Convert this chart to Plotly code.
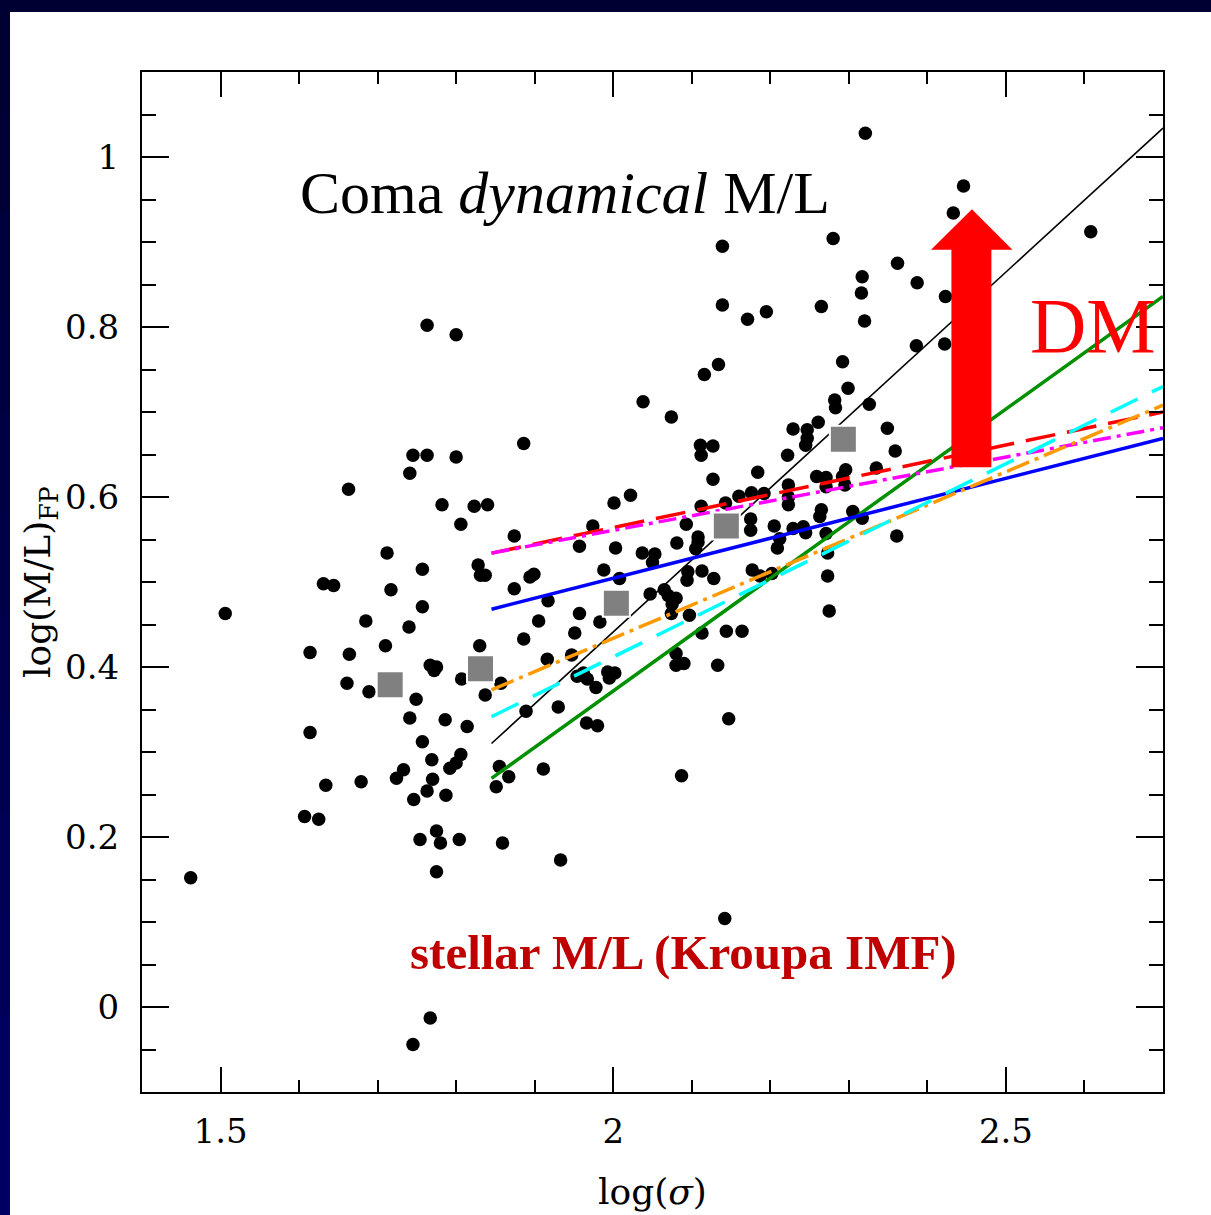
import plotly.graph_objects as go

# Coma cluster galaxies: velocity dispersion vs fundamental-plane M/L
log_sigma = [
    2.321, 2.446, 2.433, 2.608, 2.139, 2.280, 2.362, 2.317, 2.387, 2.316,
    2.139, 2.423, 2.195, 2.171, 2.265, 2.320, 2.386, 2.422, 2.134, 2.116,
    2.292, 2.299, 2.038, 2.074, 2.282, 2.283, 2.326, 2.111, 2.127, 2.112,
    2.229, 2.247, 2.247, 2.245, 2.261, 2.349, 2.359, 2.222, 2.127, 2.184,
    2.001, 2.022, 2.093, 2.112, 2.143, 2.160, 2.176, 2.192, 2.223, 2.223,
    2.223, 2.259, 2.271, 2.296, 2.292, 2.295, 2.271, 2.335, 2.175, 2.175,
    2.205, 2.229, 2.242, 2.245, 2.265, 2.263, 2.305, 2.317, 2.271, 2.273,
    2.361, 2.273, 2.275, 2.081, 2.108, 2.108, 2.105, 2.037, 2.053, 2.050,
    2.003, 1.988, 2.008, 2.095, 2.094, 2.113, 2.128, 2.212, 2.209, 2.177,
    2.202, 2.187, 2.047, 2.065, 2.070, 2.080, 2.075, 2.074, 2.097, 2.113,
    2.144, 2.164, 2.080, 2.080, 2.090, 2.133, 1.993, 2.002, 2.147, 2.087,
    2.142, 1.506, 1.663, 1.614, 1.614, 1.631, 1.644, 1.712, 1.717, 1.685,
    1.661, 1.664, 1.710, 1.689, 1.741, 1.745, 1.763, 1.800, 1.782, 1.823,
    1.840, 1.806, 1.886, 1.874, 1.757, 1.757, 1.740, 1.828, 1.831, 1.837,
    1.874, 1.894, 1.899, 1.917, 1.957, 1.974, 1.957, 1.905, 1.886, 1.951,
    1.830, 1.916, 1.947, 1.983, 1.954, 1.962, 1.967, 1.995, 1.978, 1.930,
    1.889, 1.966, 1.980, 1.767, 1.775, 1.772, 1.807, 1.857, 1.837, 1.749,
    1.741, 1.786, 1.814, 1.757, 1.769, 1.806, 1.800, 1.792, 1.733, 1.724,
    1.770, 1.763, 1.787, 1.746, 1.634, 1.679, 1.855, 1.867, 1.851, 1.911,
    1.607, 1.625, 1.775, 1.754, 1.780, 1.804, 1.859, 1.933, 1.775, 1.462,
    1.767, 1.745, 1.763, 1.800,
]
log_ml_fp = [
    1.028, 0.966, 0.934, 0.912, 0.895, 0.904, 0.875, 0.859, 0.852, 0.840,
    0.826, 0.836, 0.818, 0.809, 0.824, 0.807, 0.778, 0.780, 0.756, 0.744,
    0.759, 0.728, 0.712, 0.694, 0.714, 0.705, 0.709, 0.661, 0.660, 0.649,
    0.680, 0.679, 0.669, 0.661, 0.688, 0.681, 0.654, 0.649, 0.621, 0.629,
    0.593, 0.602, 0.568, 0.589, 0.593, 0.601, 0.605, 0.604, 0.614, 0.600,
    0.591, 0.624, 0.623, 0.632, 0.624, 0.614, 0.612, 0.634, 0.574, 0.561,
    0.566, 0.563, 0.565, 0.558, 0.585, 0.577, 0.583, 0.575, 0.557, 0.534,
    0.554, 0.507, 0.466, 0.546, 0.553, 0.547, 0.539, 0.534, 0.533, 0.523,
    0.540, 0.514, 0.504, 0.512, 0.502, 0.513, 0.504, 0.551, 0.540, 0.514,
    0.510, 0.507, 0.486, 0.491, 0.484, 0.481, 0.474, 0.463, 0.461, 0.440,
    0.442, 0.442, 0.416, 0.402, 0.404, 0.402, 0.394, 0.393, 0.339, 0.272,
    0.104, 0.463, 0.609, 0.417, 0.323, 0.498, 0.496, 0.534, 0.491, 0.454,
    0.381, 0.415, 0.425, 0.371, 0.628, 0.649, 0.649, 0.647, 0.591, 0.589,
    0.591, 0.568, 0.663, 0.554, 0.515, 0.471, 0.447, 0.520, 0.508, 0.508,
    0.492, 0.506, 0.509, 0.478, 0.542, 0.566, 0.463, 0.454, 0.433, 0.440,
    0.425, 0.409, 0.414, 0.453, 0.389, 0.393, 0.386, 0.387, 0.376, 0.353,
    0.348, 0.334, 0.331, 0.402, 0.400, 0.396, 0.386, 0.381, 0.367, 0.362,
    0.340, 0.338, 0.330, 0.312, 0.291, 0.297, 0.287, 0.281, 0.279, 0.269,
    0.268, 0.254, 0.249, 0.244, 0.261, 0.265, 0.283, 0.271, 0.259, 0.280,
    0.224, 0.221, 0.207, 0.197, 0.193, 0.197, 0.193, 0.173, 0.159, 0.152,
    -0.013, -0.044, 0.802, 0.791,
]

# Binned medians
bin_sigma = [1.716, 1.831, 2.004, 2.144, 2.293]
bin_ml = [0.379, 0.398, 0.475, 0.566, 0.668]

# Relations evaluated at the two ends of the fitted sigma range
fit_sigma = [1.845, 2.700]
dyn_fit_ml = [0.310, 1.034]
green_ml = [0.269, 0.836]
blue_ml = [0.468, 0.669]
red_ml = [0.534, 0.700]
magenta_ml = [0.534, 0.6815]
orange_ml = [0.373, 0.708]
cyan_ml = [0.3415, 0.730]

serif = "Liberation Serif"
axis_font = "DejaVu Serif"

fig = go.Figure()

fig.add_trace(go.Scatter(
    x=log_sigma, y=log_ml_fp, mode="markers",
    marker=dict(symbol="circle", size=13.5, color="black", line=dict(width=0)),
    hoverinfo="skip",
))

model_lines = [
    (dyn_fit_ml, "black", 1.6, "solid"),
    (green_ml, "#009000", 3.5, "solid"),
    (blue_ml, "#0000ff", 3.5, "solid"),
    (red_ml, "#ff0000", 3.5, "30px,12px"),
    (magenta_ml, "#ff00ff", 3.5, "18px,6px,4px,6px"),
    (orange_ml, "#ff9900", 3.5, "24px,6px,4px,6px"),
    (cyan_ml, "#00ffff", 3.5, "30px,16px"),
]
for ys, col, w, dash in model_lines:
    fig.add_trace(go.Scatter(
        x=fit_sigma, y=ys, mode="lines",
        line=dict(color=col, width=w, dash=dash),
        hoverinfo="skip",
    ))

fig.add_trace(go.Scatter(
    x=bin_sigma, y=bin_ml, mode="markers",
    marker=dict(symbol="square", size=27, color="#808080",
                line=dict(color="white", width=2)),
    hoverinfo="skip",
))

# Page frame: white sheet on a dark navy backdrop, left edge shaded
shapes = [
    dict(type="rect", xref="paper", yref="paper", layer="below",
         x0=-0.1293, x1=1.2, y0=-0.3, y1=1.0588,
         fillcolor="white", line=dict(width=0)),
]
n_strips = 12
for i in range(n_strips):
    t = i / (n_strips - 1)
    b = int(round(0x33 + (0x62 - 0x33) * t))
    y_top = 1.0588 - i * (1.0588 + 0.1206) / n_strips
    y_bot = 1.0588 - (i + 1) * (1.0588 + 0.1206) / n_strips
    shapes.append(dict(
        type="rect", xref="paper", yref="paper", layer="below",
        x0=-0.2, x1=-0.1293, y0=y_bot - 0.002, y1=y_top,
        fillcolor=f"rgb(0,0,{b})", line=dict(width=0)))

# Dark-matter arrow
shapes.append(dict(
    type="path", xref="x", yref="y", layer="above",
    path=("M 2.4306,0.635 L 2.4815,0.635 L 2.4815,0.891 L 2.5083,0.891 "
          "L 2.4567,0.9385 L 2.4046,0.891 L 2.4306,0.891 Z"),
    fillcolor="#ff0000", line=dict(width=0),
))

annotations = [
    dict(x=1.598, y=0.958, xref="x", yref="y", xanchor="left", yanchor="middle",
         text="Coma <i>dynamical</i> M/L", showarrow=False,
         font=dict(family=serif, size=60, color="black")),
    dict(x=2.6115, y=0.802, xref="x", yref="y", xanchor="center", yanchor="middle",
         text="DM", showarrow=False,
         font=dict(family=serif, size=78, color="#ff0000")),
    dict(x=2.0898, y=0.064, xref="x", yref="y", xanchor="center", yanchor="middle",
         text="<b>stellar M/L (Kroupa IMF)</b>", showarrow=False,
         font=dict(family=serif, size=49, color="#c00000")),
    dict(x=0.5, y=-0.098, xref="paper", yref="paper", xanchor="center", yanchor="middle",
         text="log(<i>σ</i>)", showarrow=False,
         font=dict(family=axis_font, size=36, color="black")),
    dict(x=-0.0999, y=0.5, xref="paper", yref="paper", xanchor="center", yanchor="middle",
         text="log(M/L)<sub>FP</sub>", showarrow=False, textangle=-90,
         font=dict(family=axis_font, size=36, color="black")),
]

axis_common = dict(
    showgrid=False, zeroline=False, showline=True, linecolor="black", linewidth=2,
    ticks="inside", tickcolor="black", tickwidth=2, mirror="allticks",
    tickfont=dict(family=axis_font, size=34, color="black"),
)

fig.update_xaxes(range=[1.4, 2.7], tick0=0, dtick=0.5, ticklen=25,
                 ticklabelstandoff=8,
                 minor=dict(dtick=0.1, tick0=0, ticklen=12, tickwidth=2,
                            tickcolor="black", ticks="inside"),
                 **axis_common)
fig.update_yaxes(range=[-0.1, 1.1], tick0=0, dtick=0.2, ticklen=27,
                 ticklabelstandoff=14,
                 minor=dict(dtick=0.05, tick0=0, ticklen=14, tickwidth=2,
                            tickcolor="black", ticks="inside"),
                 **axis_common)

fig.update_layout(
    width=1211, height=1215,
    margin=dict(l=142, r=48, t=72, b=123, pad=0),
    paper_bgcolor="#000033", plot_bgcolor="rgba(0,0,0,0)",
    showlegend=False,
    shapes=shapes, annotations=annotations,
)

fig.write_html("out.html")
